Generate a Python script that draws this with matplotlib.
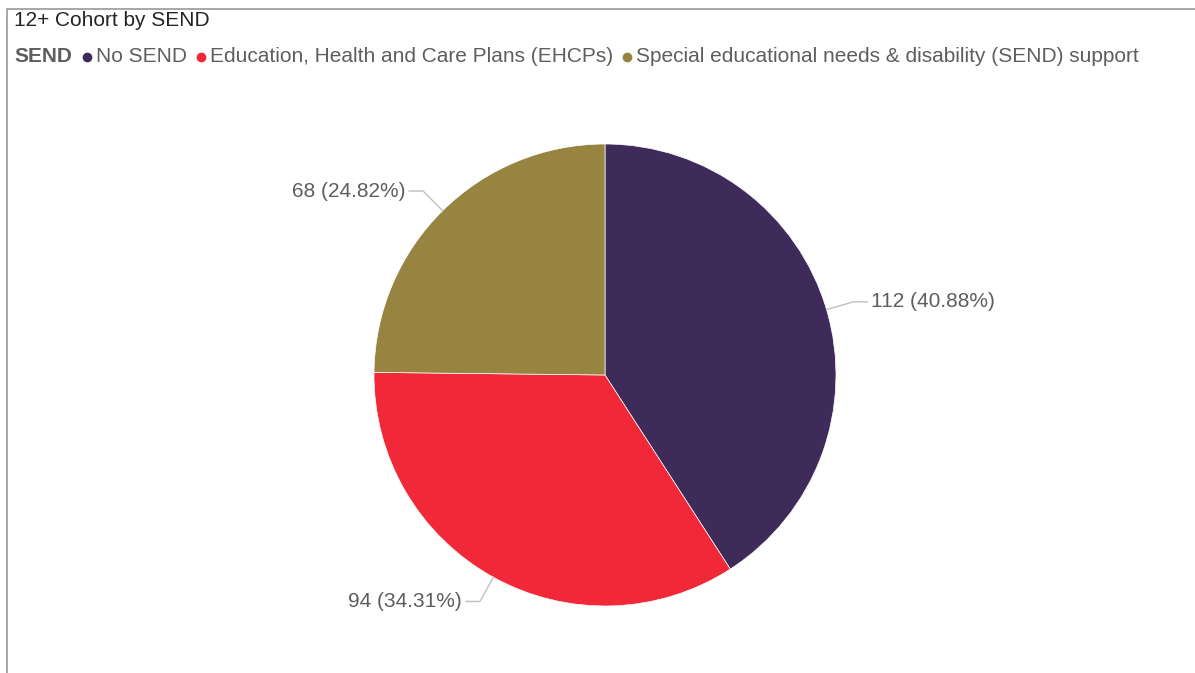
import numpy as np
import matplotlib.pyplot as plt

categories = ['No SEND', 'Education, Health and Care Plans (EHCPs)',
              'Special educational needs & disability (SEND) support']
counts = [112, 94, 68]
colors = ['#3F2B5A', '#F02837', '#968440']

W, H = 1195, 673
plt.rcParams['font.family'] = ['Liberation Sans', 'DejaVu Sans']
fig = plt.figure(figsize=(W / 100, H / 100), dpi=100, facecolor='white')
ax = fig.add_axes([0, 0, 1, 1])
ax.set_xlim(0, W)
ax.set_ylim(0, H)
ax.set_aspect('equal')
ax.axis('off')

# frame (left + top edge)
ax.plot([7.5, 7.5, W], [0, H - 9, H - 9], color='#a0a0a0', lw=1.3)

fs = 15
# title + legend
ax.text(14, H - 20, '12+ Cohort by SEND', fontsize=fs, color='#252423', va='center')
t = ax.text(14, H - 56, 'SEND', fontsize=fs, color='#605E5C', va='center', fontweight='bold')
renderer = fig.canvas.get_renderer()
x = t.get_window_extent(renderer).x1 + 15
for name, c in zip(categories, colors):
    ax.plot(x, H - 57, 'o', ms=6, color=c)
    t = ax.text(x + 9, H - 56, name, fontsize=fs, color='#605E5C', va='center')
    x = t.get_window_extent(renderer).x1 + 14

cx, cy, r = 605, H - 375, 231
wedges, _ = ax.pie(counts, colors=colors, startangle=90, counterclock=False,
                   center=(cx, cy), radius=r, frame=True,
                   wedgeprops=dict(linewidth=0.5, edgecolor='white'))
ax.set_xlim(0, W)
ax.set_ylim(0, H)
ax.axis('off')

total = sum(counts)
for w, n in zip(wedges, counts):
    ang = np.deg2rad((w.theta1 + w.theta2) / 2)
    ex, ey = cx + r * np.cos(ang), cy + r * np.sin(ang)
    kx, ky = cx + 1.12 * r * np.cos(ang), cy + 1.12 * r * np.sin(ang)
    side = 1 if np.cos(ang) > 0 else -1
    hx = kx + side * 14
    ax.plot([ex, kx, hx], [ey, ky, ky], color='#c0c0c0', lw=1)
    ax.text(hx + side * 4, ky, f'{n} ({n / total * 100:.2f}%)', fontsize=fs,
            color='#605E5C', va='center', ha='left' if side > 0 else 'right')

fig.savefig('out.png', dpi=100, facecolor='white')
